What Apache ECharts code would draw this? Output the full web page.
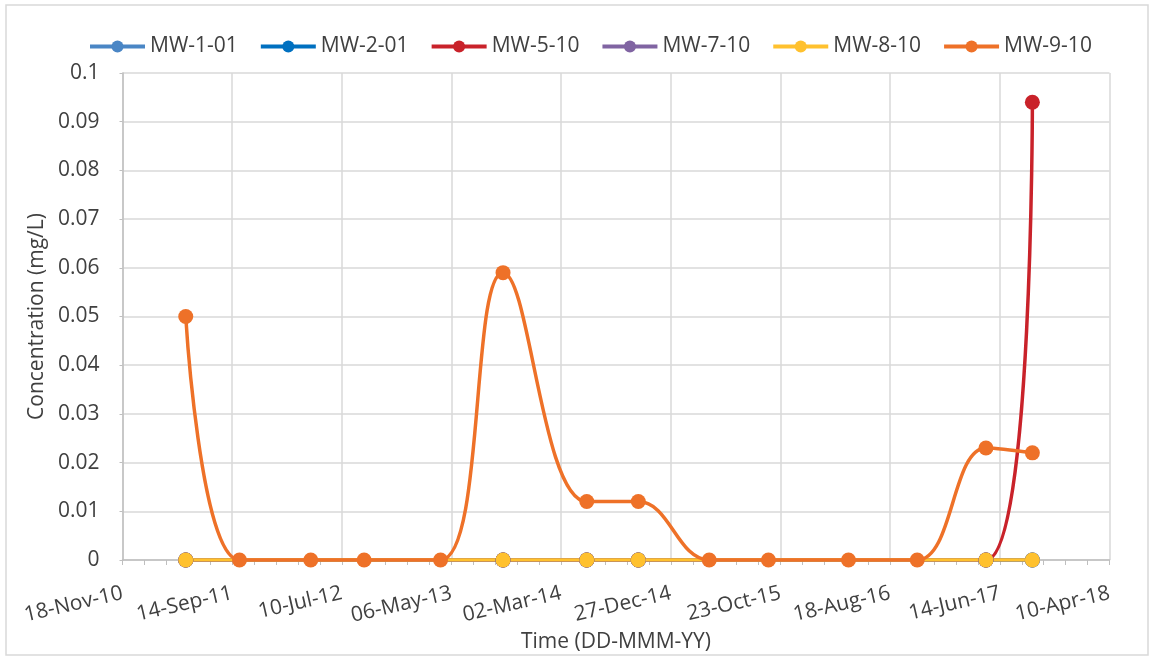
<!DOCTYPE html>
<html>
<head>
<meta charset="utf-8">
<script src="https://cdn.jsdelivr.net/npm/echarts@6/dist/echarts.min.js"></script>
<style>
  html, body { margin: 0; padding: 0; background: #ffffff; }
  #chart { width: 1151px; height: 658px; }
</style>
</head>
<body>
<div id="chart"></div>
<script>
// Monitoring wells and their line colours
const wellNames = ['MW-1-01', 'MW-2-01', 'MW-5-10', 'MW-7-10', 'MW-8-10', 'MW-9-10'];
const wellColors = ['#4A86C5', '#0070C0', '#C9222A', '#8064A2', '#FFC12E', '#EE7128'];

// Sampling dates shared by wells MW-1-01 … MW-8-10
const sharedDates = ['2011-05-10', '2013-09-24', '2014-05-11', '2014-09-29', '2017-05-07', '2017-09-11'];
const mw101 = [0, 0, 0, 0, 0, 0];
const mw201 = [0, 0, 0, 0, 0, 0];
const mw510 = [0, 0, 0, 0, 0, 0.094];
const mw710 = [0, 0, 0, 0, 0, 0];
const mw810 = [0, 0, 0, 0, 0, 0];

// MW-9-10 was sampled more often
const mw910Dates = ['2011-05-10', '2011-10-04', '2012-04-16', '2012-09-09', '2013-04-06', '2013-09-24',
  '2014-05-11', '2014-09-29', '2015-04-11', '2015-09-20', '2016-04-26', '2016-10-31',
  '2017-05-07', '2017-09-11'];
const mw910 = [0.05, 0, 0, 0, 0, 0.059, 0.012, 0.012, 0, 0, 0, 0, 0.023, 0.022];

// Time axis: ticks every 300 days from the start date
const axisStart = '2010-11-18';
const axisEnd = '2018-04-10';
const tickDays = 300;
const yMax = 0.1;
const yStep = 0.01;

const DAY = 86400000;
const baseMs = Date.parse(axisStart + 'T00:00:00Z');
const dayOffset = s => Math.round((Date.parse(s + 'T00:00:00Z') - baseMs) / DAY);
const MONTHS = ['Jan', 'Feb', 'Mar', 'Apr', 'May', 'Jun', 'Jul', 'Aug', 'Sep', 'Oct', 'Nov', 'Dec'];
function fmtDate(days) {
  const d = new Date(baseMs + Math.round(days) * DAY);
  const dd = String(d.getUTCDate()).padStart(2, '0');
  const yy = String(d.getUTCFullYear() % 100).padStart(2, '0');
  return dd + '-' + MONTHS[d.getUTCMonth()] + '-' + yy;
}

const pairs = (dates, vals) => dates.map((s, i) => [dayOffset(s), vals[i]]);
const wellData = [
  pairs(sharedDates, mw101),
  pairs(sharedDates, mw201),
  pairs(sharedDates, mw510),
  pairs(sharedDates, mw710),
  pairs(sharedDates, mw810),
  pairs(mw910Dates, mw910)
];

const FONT = '"Open Sans", "DejaVu Sans", sans-serif';
const TEXT = '#404040';
const GRID = '#d9d9d9';

const chart = echarts.init(document.getElementById('chart'), null, { renderer: 'canvas' });
chart.setOption({
  backgroundColor: '#ffffff',
  animation: false,
  textStyle: { fontFamily: FONT },
  graphic: [{
    type: 'rect',
    shape: { x: 6, y: 5, width: 1142, height: 650 },
    style: { fill: 'none', stroke: '#d9d9d9', lineWidth: 1.5 },
    silent: true
  }],
  legend: {
    data: wellNames,
    left: 83,
    top: 31,
    itemWidth: 55,
    itemHeight: 15,
    itemGap: 21,
    lineStyle: { width: 4 },
    textStyle: { fontFamily: FONT, fontSize: 21, color: TEXT }
  },
  grid: { left: 122.5, right: 41.5, top: 73, bottom: 98, containLabel: false, outerBoundsMode: 'none' },
  xAxis: {
    type: 'value',
    min: 0,
    max: dayOffset(axisEnd),
    interval: tickDays,
    name: 'Time (DD-MMM-YY)',
    nameLocation: 'middle',
    nameGap: 64,
    nameTextStyle: { fontFamily: FONT, fontSize: 21, color: TEXT },
    axisLine: { show: true, lineStyle: { color: '#bfbfbf', width: 1.5 } },
    axisTick: { show: true, length: 5, lineStyle: { color: '#bfbfbf' } },
    minorTick: { show: true, splitNumber: 5, length: 5, lineStyle: { color: '#bfbfbf' } },
    splitLine: { show: true, lineStyle: { color: GRID, width: 1.5 } },
    axisLabel: {
      rotate: 13,
      margin: 33,
      fontFamily: FONT,
      fontSize: 21,
      color: TEXT,
      formatter: v => fmtDate(v)
    }
  },
  yAxis: {
    type: 'value',
    min: 0,
    max: yMax,
    interval: yStep,
    name: 'Concentration (mg/L)',
    nameLocation: 'middle',
    nameRotate: 90,
    nameGap: 62,
    nameTextStyle: { fontFamily: FONT, fontSize: 21, color: TEXT },
    axisLine: { show: true, lineStyle: { color: '#bfbfbf', width: 1.5 } },
    axisTick: { show: true, length: 3, lineStyle: { color: '#bfbfbf' } },
    splitLine: { show: true, lineStyle: { color: GRID, width: 1.5 } },
    axisLabel: {
      margin: 23,
      fontFamily: FONT,
      fontSize: 21,
      color: TEXT,
      formatter: v => (v === 0 ? '0' : String(+v.toFixed(2)))
    }
  },
  series: wellNames.map((name, i) => ({
    name: name,
    type: 'line',
    data: wellData[i],
    smooth: 0.4,
    clip: true,
    symbol: 'circle',
    symbolSize: 15,
    showAllSymbol: true,
    color: wellColors[i],
    lineStyle: { width: 3.5, color: wellColors[i] },
    itemStyle: { color: wellColors[i] }
  }))
});
</script>
</body>
</html>
